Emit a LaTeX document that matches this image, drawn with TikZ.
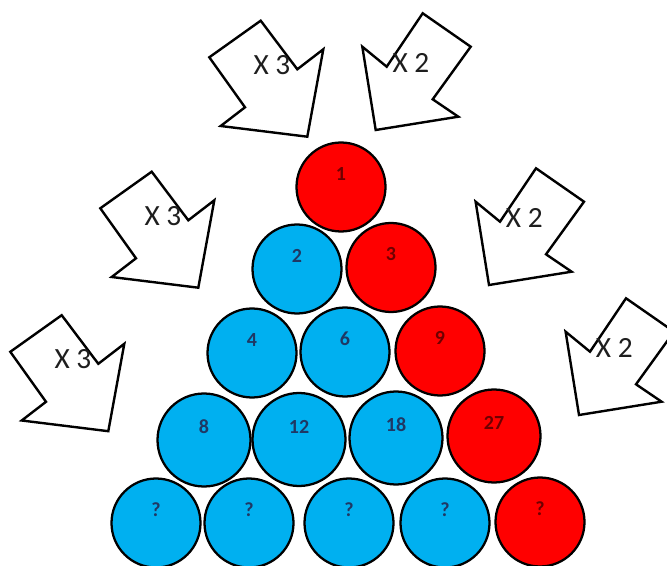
\documentclass[tikz,border=0pt]{standalone}
\usepackage{fontspec}
\setmainfont{Carlito}
\definecolor{ballblue}{RGB}{0,176,240}
\definecolor{ballred}{RGB}{255,0,0}
\definecolor{numblue}{RGB}{31,56,100}
\definecolor{numred}{RGB}{110,0,0}
\definecolor{ink}{RGB}{30,30,30}
\begin{document}
\begin{tikzpicture}[x=0.75pt,y=-0.75pt,
  ball/.style={circle, draw=black, line width=1.7pt, inner sep=0pt, minimum size=66.75pt},
  bigball/.style={ball, minimum size=69.75pt},
  blueball/.style={ball, fill=ballblue},
  redball/.style={ball, fill=ballred},
  bignum/.style={font=\fontsize{15}{15}\selectfont\bfseries, yshift=9.75pt},
  bnum/.style={bignum, text=numblue},
  rnum/.style={bignum, text=numred},
  blockarrow/.style={draw=black, fill=white, line width=1.8pt, line join=miter},
  mult/.style={font=\fontsize{22}{22}\selectfont, text=ink, inner sep=0pt},
  pics/timesleft/.style={code={
    \draw[blockarrow] (-11.3,-44.3) -- (25.3,4.3) -- (51.3,-15.7) -- (35.3,71.7)
      -- (-51.3,61) -- (-27,42.3) -- (-62.7,-7.7) -- cycle;
    \node[mult] (-txt) at (0,0) {#1};
  }},
  pics/timesright/.style={code={
    \draw[blockarrow] (11.7,-49.7) -- (59.7,-16.3) -- (21.7,36.3) -- (47.3,53.7)
      -- (-35.3,67) -- (-48.7,-16.3) -- (-24.3,3.7) -- cycle;
    \node[mult] (-txt) at (0,0) {#1};
  }}
]
\clip (0,0) rectangle (667,566);

% block arrows with the multipliers
\pic (la) at (272,65) {timesleft=X 3};
\pic (lb) at (163,216) {timesleft=X 3};
\pic (lc) at (73,359.5) {timesleft=X 3};
\pic (ra) at (411,63) {timesright=X 2};
\pic (rb) at (524.3,218) {timesright=X 2};
\pic (rc) at (614.3,348) {timesright=X 2};

% row 1
\node[redball, label={[rnum]center:1}] (n1) at (341,187) {};
% row 2
\node[blueball, label={[bnum]center:2}] (n2) at (297,269) {};
\node[redball, label={[rnum]center:3}] (n3) at (391,267.5) {};
% row 3
\node[blueball, label={[bnum]center:4}] (n4) at (252,353) {};
\node[blueball, label={[bnum]center:6}] (n6) at (345,352) {};
\node[redball, label={[rnum]center:9}] (n9) at (440,351) {};
% row 4
\node[blueball, bigball, label={[bnum]center:8}] (n8) at (204,440) {};
\node[blueball, bigball, label={[bnum]center:12}] (n12) at (299,439.5) {};
\node[blueball, bigball, label={[bnum]center:18}] (n18) at (396,438) {};
\node[redball, bigball, label={[rnum]center:27}] (n27) at (494,436) {};
% row 5
\node[blueball, label={[bnum]center:?}] (q1) at (156,523) {};
\node[blueball, label={[bnum]center:?}] (q2) at (249,523) {};
\node[blueball, label={[bnum]center:?}] (q3) at (349,523) {};
\node[blueball, label={[bnum]center:?}] (q4) at (445,523) {};
\node[redball, label={[rnum]center:?}] (q5) at (540,522) {};
\end{tikzpicture}
\end{document}
